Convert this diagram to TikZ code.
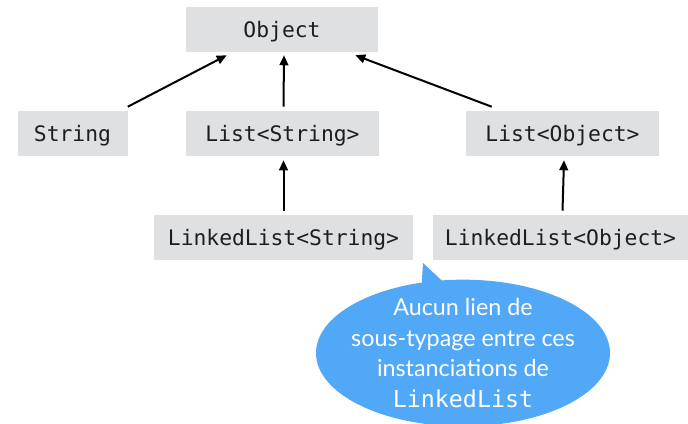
\documentclass[tikz,border=0pt]{standalone}
\usepackage{fontspec}
\setmonofont{DejaVu Sans Mono}
\setsansfont{Lato}
\usetikzlibrary{arrows.meta,shapes.geometric}
\definecolor{boxgray}{RGB}{223,224,226}
\definecolor{bubbleblue}{RGB}{80,168,246}
\definecolor{codeink}{RGB}{30,30,30}
\tikzset{
  typebox/.style={fill=boxgray,text=codeink,font=\ttfamily\fontsize{16}{19}\selectfont,
    minimum height=33.75pt,inner sep=0pt,text height=16pt,text depth=4pt},
  subtype/.style={-{Triangle[length=7.5pt,width=6.5pt]},line width=1.5pt},
}

\begin{document}
\begin{tikzpicture}[x=0.75pt,y=-0.75pt]
    \useasboundingbox (0,0) rectangle (688,424);
    \node[typebox,minimum width=144pt] (object) at (282,29.5) {Object};
    \node[typebox,minimum width=82.5pt] (string) at (72.5,133.5) {String};
    \node[typebox,minimum width=144.75pt] (liststr) at (282.5,133.5) {List<String>};
    \node[typebox,minimum width=144.75pt] (listobj) at (562.5,133.5) {List<Object>};
    \node[typebox,minimum width=194.25pt] (llstr) at (283.5,237.5) {LinkedList<String>};
    \node[typebox,minimum width=191.25pt] (llobj) at (560.5,237.5) {LinkedList<Object>};
    \draw[subtype] ([shift={(0,-4)}]string.north east) -- ([shift={(41,3)}]object.south west);
    \draw[subtype] ([shift={(1,-4)}]liststr.north) -- ([shift={(2,3)}]object.south);
    \draw[subtype] ([shift={(26,-4)}]listobj.north west) -- ([shift={(-23,3)}]object.south east);
    \draw[subtype] ([shift={(0,-4)}]llstr.north) -- ([shift={(1,4)}]liststr.south);
    \draw[subtype] ([shift={(2,-4)}]llobj.north) -- ([shift={(1.5,4)}]listobj.south);
    % bulle
    \coordinate (tip) at (423,263);
    \fill[bubbleblue] (tip) -- (421,295) -- (452,290) -- cycle;
    \node[ellipse,fill=bubbleblue,minimum width=220.5pt,minimum height=110pt,inner sep=0pt]
      (callout) at (463,353) {};
    \node[text=white,align=center,font=\sffamily\fontsize{17.5}{23}\selectfont]
      (callouttext) at (callout.center) {Aucun lien de\\sous-typage entre ces\\instanciations de\\\texttt{LinkedList}};
\end{tikzpicture}
\end{document}
